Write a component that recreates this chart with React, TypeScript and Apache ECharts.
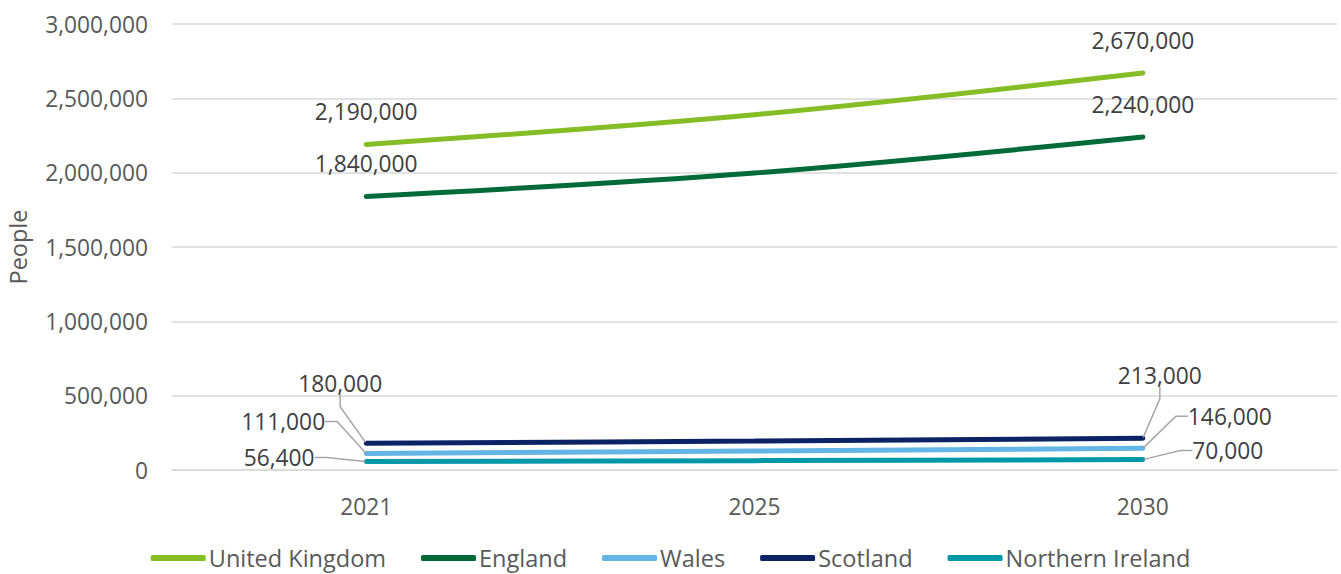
import React, { useEffect, useRef } from "react";
import * as echarts from "echarts";

const years = ["2021", "2025", "2030"];
const seriesNames = ["United Kingdom", "England", "Wales", "Scotland", "Northern Ireland"];
const ukValues = [2190000, 2390000, 2670000];
const englandValues = [1840000, 1998000, 2240000];
const walesValues = [111000, 128000, 146000];
const scotlandValues = [180000, 195000, 213000];
const niValues = [56400, 63000, 70000];
const colors = ["#84bd25", "#006b38", "#62b5e5", "#0b2265", "#0097a9"];

// label offsets (dx, dy) relative to the point, for the small series [first, last]
const smallOffsets: Record<number, [number, number][]> = {
  2: [[-83, -32], [87, -32]],
  3: [[-26, -60], [17, -63]],
  4: [[-87, -4], [85, -9]],
};

const fmt = (v: number) => v.toLocaleString("en-US");
const FONT = "Open Sans";

export default function App() {
  const ref = useRef<HTMLDivElement>(null);
  useEffect(() => {
    const chart = echarts.init(ref.current!, null, { renderer: "svg" });
    const all = [ukValues, englandValues, walesValues, scotlandValues, niValues];
    const series = all.map((vals, si) => {
      const small = si >= 2;
      return {
        name: seriesNames[si],
        type: "line",
        smooth: 0.35,
        symbol: "circle",
        symbolSize: 2,
        showSymbol: true,
        color: colors[si],
        lineStyle: { width: 5, color: colors[si], cap: "round" },
        itemStyle: { color: colors[si] },
        emphasis: { disabled: true },
        label: {
          show: true,
          position: small ? "inside" : "top",
          distance: 20,
          fontFamily: FONT,
          fontSize: 22.75,
          color: "#404040",
          formatter: (p: any) => fmt(p.value),
        },
        labelLine: small
          ? { show: true, showAbove: true, length2: 12, smooth: false, lineStyle: { color: "#a6a6a6", width: 1.5 } }
          : { show: false },
        labelLayout: small
          ? (p: any) => {
              const idx = p.dataIndex === 0 ? 0 : 1;
              const o = smallOffsets[si][idx];
              return { dx: o[0], dy: o[1] };
            }
          : undefined,
        data: vals.map((v, i) => ({
          value: v,
          label: { show: i !== 1 },
        })),
      };
    });
    chart.setOption({
      animation: false,
      grid: { left: 172, right: 4, top: 24, bottom: 104, containLabel: false, outerBoundsMode: "none" },
      legend: {
        bottom: -1,
        left: "center",
        icon: "roundRect",
        itemWidth: 55,
        itemHeight: 6,
        itemGap: 35,
        data: seriesNames,
        textStyle: { fontFamily: FONT, fontSize: 23.5, color: "#595959", padding: [0, 0, 0, -2] },
      },
      xAxis: {
        type: "category",
        data: years,
        boundaryGap: true,
        axisLine: { show: true, lineStyle: { color: "#d9d9d9", width: 1.5 } },
        axisTick: { show: false },
        axisLabel: { fontFamily: FONT, fontSize: 22.75, color: "#595959", margin: 25 },
      },
      yAxis: {
        type: "value",
        min: 0,
        max: 3000000,
        interval: 500000,
        name: "People",
        nameLocation: "middle",
        nameGap: 142,
        nameTextStyle: { fontFamily: FONT, fontSize: 23.5, color: "#595959" },
        axisLine: { show: false },
        axisTick: { show: false },
        splitLine: { lineStyle: { color: "#d9d9d9", width: 1.5 } },
        axisLabel: {
          fontFamily: FONT,
          fontSize: 22.75,
          color: "#595959",
          margin: 24,
          formatter: (v: number) => fmt(v),
        },
      },
      series,
    });
    return () => chart.dispose();
  }, []);
  return (
    <div
      ref={ref}
      style={{ position: "absolute", left: 0, top: 0, width: 1341, height: 574 }}
    />
  );
}
